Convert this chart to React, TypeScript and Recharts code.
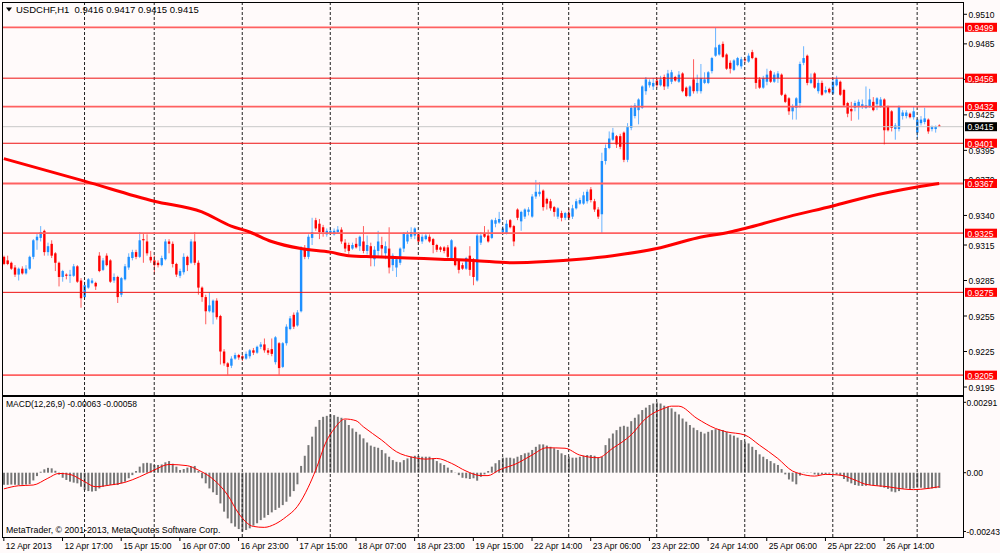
import React from 'react';
import { ComposedChart, Bar, Line, XAxis, YAxis, ReferenceLine } from 'recharts';

// ---------- price data (USDCHF H1) ----------
const openPrices = [
  0.9305, 0.9302, 0.9300, 0.9296, 0.9290, 0.9295, 0.9291, 0.9295, 0.9305, 0.9319,
  0.9321, 0.9327, 0.9309, 0.9316, 0.9308, 0.9300, 0.9288, 0.9290, 0.9289, 0.9289,
  0.9297, 0.9285, 0.9271, 0.9279, 0.9283, 0.9283, 0.9306, 0.9294, 0.9306, 0.9302,
  0.9285, 0.9288, 0.9273, 0.9286, 0.9296, 0.9304, 0.9309, 0.9305, 0.9320, 0.9318,
  0.9305, 0.9302, 0.9300, 0.9298, 0.9303, 0.9318, 0.9316, 0.9299, 0.9289, 0.9292,
  0.9305, 0.9300, 0.9318, 0.9300, 0.9279, 0.9271, 0.9259, 0.9258, 0.9268, 0.9255,
  0.9225, 0.9215, 0.9213, 0.9219, 0.9222, 0.9221, 0.9219, 0.9221, 0.9226, 0.9224,
  0.9229, 0.9231, 0.9226, 0.9227, 0.9216, 0.9232, 0.9212, 0.9232, 0.9244, 0.9256,
  0.9247, 0.9259, 0.9312, 0.9305, 0.9321, 0.9336, 0.9333, 0.9330, 0.9324, 0.9325,
  0.9324, 0.9326, 0.9328, 0.9317, 0.9315, 0.9312, 0.9316, 0.9314, 0.9318, 0.9310,
  0.9314, 0.9303, 0.9310, 0.9315, 0.9308, 0.9312, 0.9298, 0.9296, 0.9300, 0.9312,
  0.9318, 0.9322, 0.9323, 0.9324, 0.9318, 0.9320, 0.9322, 0.9320, 0.9315, 0.9313,
  0.9313, 0.9313, 0.9304, 0.9313, 0.9302, 0.9298, 0.9295, 0.9306, 0.9302, 0.9285,
  0.9317, 0.9325, 0.9323, 0.9321, 0.9333, 0.9334, 0.9326, 0.9325, 0.9336, 0.9331,
  0.9345, 0.9335, 0.9339, 0.9343, 0.9339, 0.9356, 0.9358, 0.9361, 0.9354, 0.9352,
  0.9347, 0.9339, 0.9342, 0.9338, 0.9342, 0.9339, 0.9346, 0.9350, 0.9350, 0.9352,
  0.9362, 0.9352, 0.9345, 0.9341, 0.9386, 0.9397, 0.9404, 0.9407, 0.9407, 0.9410,
  0.9387, 0.9414, 0.9424, 0.9429, 0.9431, 0.9445, 0.9450, 0.9449, 0.9454, 0.9450,
  0.9457, 0.9449, 0.9453, 0.9457, 0.9453, 0.9460, 0.9448, 0.9441, 0.9455, 0.9445,
  0.9445, 0.9452, 0.9452, 0.9462, 0.9475, 0.9476, 0.9485, 0.9476, 0.9469, 0.9463,
  0.9467, 0.9466, 0.9472, 0.9470, 0.9478, 0.9473, 0.9455, 0.9448, 0.9453, 0.9462,
  0.9453, 0.9456, 0.9459, 0.9442, 0.9439, 0.9428, 0.9431, 0.9435, 0.9469, 0.9475,
  0.9452, 0.9460, 0.9445, 0.9452, 0.9444, 0.9447, 0.9443, 0.9450, 0.9453, 0.9446,
  0.9435, 0.9430, 0.9431, 0.9432, 0.9432, 0.9431, 0.9432, 0.9436, 0.9434, 0.9432,
  0.9438, 0.9432, 0.9428, 0.9413, 0.9413, 0.9424, 0.9424, 0.9426, 0.9423, 0.9410,
  0.9418, 0.9419, 0.9421, 0.9413, 0.9413, 0.9416,
];
const highPrices = [
  0.9306, 0.9306, 0.9301, 0.9298, 0.9296, 0.9297, 0.9298, 0.9306, 0.9320, 0.9325,
  0.9331, 0.9328, 0.9317, 0.9319, 0.9309, 0.9301, 0.9294, 0.9291, 0.9294, 0.9299,
  0.9298, 0.9287, 0.9284, 0.9287, 0.9287, 0.9284, 0.9309, 0.9304, 0.9308, 0.9303,
  0.9291, 0.9289, 0.9288, 0.9299, 0.9308, 0.9311, 0.9311, 0.9326, 0.9325, 0.9324,
  0.9310, 0.9306, 0.9302, 0.9306, 0.9320, 0.9320, 0.9318, 0.9300, 0.9295, 0.9308,
  0.9306, 0.9320, 0.9326, 0.9302, 0.9280, 0.9273, 0.9275, 0.9269, 0.9270, 0.9256,
  0.9227, 0.9216, 0.9221, 0.9224, 0.9223, 0.9222, 0.9225, 0.9227, 0.9228, 0.9230,
  0.9233, 0.9236, 0.9228, 0.9236, 0.9238, 0.9233, 0.9233, 0.9248, 0.9255, 0.9258,
  0.9260, 0.9314, 0.9315, 0.9324, 0.9338, 0.9338, 0.9337, 0.9332, 0.9329, 0.9330,
  0.9329, 0.9331, 0.9330, 0.9320, 0.9317, 0.9317, 0.9321, 0.9323, 0.9331, 0.9323,
  0.9317, 0.9314, 0.9327, 0.9322, 0.9318, 0.9330, 0.9308, 0.9304, 0.9313, 0.9326,
  0.9327, 0.9330, 0.9330, 0.9326, 0.9324, 0.9325, 0.9324, 0.9321, 0.9316, 0.9314,
  0.9314, 0.9315, 0.9320, 0.9314, 0.9303, 0.9300, 0.9305, 0.9314, 0.9304, 0.9325,
  0.9326, 0.9331, 0.9328, 0.9337, 0.9338, 0.9343, 0.9331, 0.9336, 0.9337, 0.9332,
  0.9346, 0.9344, 0.9346, 0.9347, 0.9358, 0.9370, 0.9368, 0.9362, 0.9355, 0.9354,
  0.9348, 0.9347, 0.9344, 0.9343, 0.9346, 0.9349, 0.9354, 0.9355, 0.9360, 0.9362,
  0.9364, 0.9354, 0.9347, 0.9393, 0.9400, 0.9411, 0.9414, 0.9408, 0.9409, 0.9411,
  0.9418, 0.9433, 0.9435, 0.9439, 0.9450, 0.9457, 0.9455, 0.9456, 0.9456, 0.9458,
  0.9459, 0.9463, 0.9463, 0.9458, 0.9462, 0.9461, 0.9449, 0.9450, 0.9472, 0.9459,
  0.9468, 0.9461, 0.9462, 0.9474, 0.9499, 0.9485, 0.9487, 0.9477, 0.9471, 0.9472,
  0.9474, 0.9474, 0.9474, 0.9477, 0.9480, 0.9474, 0.9457, 0.9458, 0.9464, 0.9463,
  0.9461, 0.9462, 0.9460, 0.9443, 0.9440, 0.9434, 0.9440, 0.9470, 0.9483, 0.9476,
  0.9460, 0.9461, 0.9455, 0.9454, 0.9449, 0.9448, 0.9456, 0.9458, 0.9454, 0.9447,
  0.9436, 0.9436, 0.9437, 0.9438, 0.9438, 0.9449, 0.9447, 0.9440, 0.9440, 0.9440,
  0.9439, 0.9433, 0.9429, 0.9418, 0.9433, 0.9429, 0.9429, 0.9427, 0.9432, 0.9422,
  0.9424, 0.9431, 0.9422, 0.9416, 0.9416, 0.9417,
];
const lowPrices = [
  0.9298, 0.9298, 0.9294, 0.9288, 0.9285, 0.9290, 0.9290, 0.9294, 0.9303, 0.9311,
  0.9318, 0.9306, 0.9306, 0.9304, 0.9293, 0.9280, 0.9284, 0.9286, 0.9283, 0.9288,
  0.9283, 0.9262, 0.9270, 0.9278, 0.9282, 0.9277, 0.9292, 0.9293, 0.9297, 0.9283,
  0.9283, 0.9266, 0.9271, 0.9285, 0.9294, 0.9302, 0.9303, 0.9304, 0.9300, 0.9306,
  0.9300, 0.9290, 0.9296, 0.9297, 0.9302, 0.9308, 0.9296, 0.9288, 0.9287, 0.9290,
  0.9293, 0.9299, 0.9298, 0.9273, 0.9267, 0.9248, 0.9258, 0.9248, 0.9252, 0.9214,
  0.9213, 0.9205, 0.9211, 0.9218, 0.9218, 0.9217, 0.9218, 0.9219, 0.9222, 0.9223,
  0.9227, 0.9224, 0.9222, 0.9221, 0.9214, 0.9205, 0.9211, 0.9230, 0.9243, 0.9244,
  0.9246, 0.9258, 0.9303, 0.9303, 0.9315, 0.9327, 0.9320, 0.9322, 0.9322, 0.9324,
  0.9323, 0.9325, 0.9316, 0.9309, 0.9307, 0.9311, 0.9312, 0.9310, 0.9308, 0.9307,
  0.9297, 0.9297, 0.9304, 0.9304, 0.9303, 0.9291, 0.9293, 0.9288, 0.9298, 0.9309,
  0.9316, 0.9320, 0.9320, 0.9317, 0.9316, 0.9319, 0.9317, 0.9308, 0.9309, 0.9309,
  0.9308, 0.9304, 0.9303, 0.9297, 0.9291, 0.9294, 0.9294, 0.9289, 0.9281, 0.9284,
  0.9315, 0.9321, 0.9317, 0.9320, 0.9330, 0.9333, 0.9324, 0.9324, 0.9329, 0.9314,
  0.9336, 0.9327, 0.9337, 0.9340, 0.9338, 0.9354, 0.9356, 0.9344, 0.9345, 0.9344,
  0.9339, 0.9337, 0.9335, 0.9336, 0.9336, 0.9337, 0.9345, 0.9349, 0.9349, 0.9350,
  0.9351, 0.9343, 0.9337, 0.9325, 0.9383, 0.9396, 0.9403, 0.9397, 0.9396, 0.9385,
  0.9385, 0.9412, 0.9422, 0.9417, 0.9430, 0.9442, 0.9448, 0.9446, 0.9448, 0.9449,
  0.9446, 0.9447, 0.9451, 0.9453, 0.9452, 0.9444, 0.9440, 0.9440, 0.9443, 0.9443,
  0.9443, 0.9451, 0.9451, 0.9460, 0.9474, 0.9475, 0.9473, 0.9463, 0.9460, 0.9462,
  0.9466, 0.9464, 0.9469, 0.9469, 0.9472, 0.9447, 0.9447, 0.9447, 0.9450, 0.9452,
  0.9452, 0.9452, 0.9441, 0.9435, 0.9425, 0.9421, 0.9421, 0.9431, 0.9467, 0.9450,
  0.9451, 0.9447, 0.9443, 0.9441, 0.9443, 0.9443, 0.9442, 0.9449, 0.9441, 0.9432,
  0.9423, 0.9420, 0.9428, 0.9421, 0.9430, 0.9430, 0.9431, 0.9428, 0.9429, 0.9431,
  0.9400, 0.9411, 0.9411, 0.9404, 0.9411, 0.9421, 0.9422, 0.9422, 0.9421, 0.9405,
  0.9416, 0.9417, 0.9409, 0.9411, 0.9410, 0.9415,
];
const closePrices = [
  0.9299, 0.9299, 0.9295, 0.9290, 0.9295, 0.9291, 0.9295, 0.9305, 0.9319, 0.9322,
  0.9326, 0.9309, 0.9314, 0.9306, 0.9300, 0.9288, 0.9293, 0.9289, 0.9290, 0.9297,
  0.9284, 0.9270, 0.9281, 0.9286, 0.9285, 0.9280, 0.9293, 0.9302, 0.9298, 0.9284,
  0.9288, 0.9271, 0.9287, 0.9297, 0.9305, 0.9309, 0.9305, 0.9319, 0.9319, 0.9308,
  0.9302, 0.9298, 0.9298, 0.9304, 0.9318, 0.9316, 0.9299, 0.9290, 0.9293, 0.9305,
  0.9298, 0.9318, 0.9300, 0.9279, 0.9271, 0.9259, 0.9264, 0.9268, 0.9254, 0.9225,
  0.9215, 0.9212, 0.9219, 0.9222, 0.9220, 0.9219, 0.9223, 0.9226, 0.9224, 0.9229,
  0.9231, 0.9226, 0.9224, 0.9223, 0.9237, 0.9211, 0.9232, 0.9246, 0.9253, 0.9246,
  0.9258, 0.9312, 0.9305, 0.9322, 0.9326, 0.9329, 0.9326, 0.9326, 0.9327, 0.9327,
  0.9327, 0.9328, 0.9318, 0.9312, 0.9310, 0.9315, 0.9313, 0.9322, 0.9310, 0.9315,
  0.9304, 0.9311, 0.9318, 0.9312, 0.9314, 0.9296, 0.9306, 0.9303, 0.9312, 0.9325,
  0.9324, 0.9326, 0.9329, 0.9318, 0.9322, 0.9323, 0.9318, 0.9315, 0.9311, 0.9311,
  0.9310, 0.9305, 0.9319, 0.9298, 0.9294, 0.9295, 0.9304, 0.9294, 0.9288, 0.9323,
  0.9323, 0.9322, 0.9318, 0.9336, 0.9336, 0.9337, 0.9329, 0.9333, 0.9330, 0.9318,
  0.9338, 0.9343, 0.9345, 0.9345, 0.9356, 0.9360, 0.9360, 0.9347, 0.9350, 0.9346,
  0.9343, 0.9346, 0.9338, 0.9342, 0.9338, 0.9346, 0.9352, 0.9353, 0.9357, 0.9360,
  0.9353, 0.9345, 0.9339, 0.9386, 0.9397, 0.9405, 0.9410, 0.9400, 0.9398, 0.9387,
  0.9415, 0.9431, 0.9433, 0.9438, 0.9449, 0.9455, 0.9453, 0.9452, 0.9450, 0.9455,
  0.9449, 0.9460, 0.9461, 0.9454, 0.9459, 0.9445, 0.9441, 0.9449, 0.9445, 0.9452,
  0.9456, 0.9455, 0.9461, 0.9473, 0.9482, 0.9484, 0.9474, 0.9464, 0.9464, 0.9471,
  0.9473, 0.9472, 0.9471, 0.9475, 0.9473, 0.9452, 0.9448, 0.9456, 0.9459, 0.9453,
  0.9459, 0.9460, 0.9442, 0.9436, 0.9428, 0.9432, 0.9439, 0.9468, 0.9473, 0.9452,
  0.9455, 0.9448, 0.9452, 0.9442, 0.9446, 0.9444, 0.9453, 0.9455, 0.9442, 0.9433,
  0.9426, 0.9428, 0.9435, 0.9436, 0.9434, 0.9433, 0.9438, 0.9429, 0.9439, 0.9438,
  0.9412, 0.9412, 0.9414, 0.9416, 0.9432, 0.9427, 0.9427, 0.9423, 0.9428, 0.9421,
  0.9421, 0.9422, 0.9411, 0.9415, 0.9415, 0.9415,
];

// 200-period moving average, read at selected bars
const maBars = [0, 22, 41, 54, 62, 67, 73, 81, 89, 94, 101, 110, 119, 128, 139, 148, 157, 166, 178, 189, 198, 202, 214, 226, 236, 249, 255];
const maValues = [
  0.9388, 0.9369, 0.9352, 0.9343, 0.9331, 0.9326, 0.9318, 0.9312, 0.9309, 0.9306,
  0.9305, 0.9304, 0.9303, 0.9302, 0.9300, 0.9301, 0.9303, 0.9306, 0.9312, 0.9321,
  0.9326, 0.9329, 0.9339, 0.9348, 0.9356, 0.9364, 0.9367,
];

// MACD(12,26,9) main histogram
const macdHist = [
  -0.00050, -0.00050, -0.00049, -0.00050, -0.00051, -0.00050, -0.00049, -0.00047, -0.00032, -0.00014,
  0.00004, 0.00014, 0.00020, 0.00018, 0.00008, -0.00008, -0.00021, -0.00030, -0.00037, -0.00041,
  -0.00044, -0.00058, -0.00072, -0.00076, -0.00078, -0.00076, -0.00065, -0.00058, -0.00054, -0.00051,
  -0.00051, -0.00051, -0.00044, -0.00037, -0.00023, -0.00010, 0.00007, 0.00025, 0.00039, 0.00041,
  0.00039, 0.00032, 0.00032, 0.00034, 0.00043, 0.00048, 0.00037, 0.00025, 0.00011, 0.00015,
  0.00021, 0.00025, 0.00028, 0.00007, -0.00023, -0.00044, -0.00065, -0.00081, -0.00092, -0.00127,
  -0.00161, -0.00189, -0.00209, -0.00223, -0.00233, -0.00243, -0.00237, -0.00230, -0.00219, -0.00209,
  -0.00196, -0.00186, -0.00175, -0.00164, -0.00154, -0.00145, -0.00134, -0.00120, -0.00099, -0.00076,
  -0.00048, 0.00028, 0.00070, 0.00114, 0.00149, 0.00190, 0.00218, 0.00231, 0.00235, 0.00241,
  0.00238, 0.00231, 0.00227, 0.00218, 0.00197, 0.00183, 0.00169, 0.00158, 0.00142, 0.00125,
  0.00112, 0.00107, 0.00103, 0.00094, 0.00080, 0.00066, 0.00052, 0.00045, 0.00043, 0.00052,
  0.00059, 0.00066, 0.00070, 0.00069, 0.00066, 0.00066, 0.00066, 0.00059, 0.00048, 0.00039,
  0.00032, 0.00021, 0.00011, 0.00001, -0.00010, -0.00021, -0.00023, -0.00026, -0.00023, -0.00033,
  -0.00017, -0.00007, 0.00007, 0.00025, 0.00039, 0.00052, 0.00062, 0.00062, 0.00062, 0.00059,
  0.00066, 0.00073, 0.00080, 0.00083, 0.00094, 0.00107, 0.00117, 0.00117, 0.00112, 0.00107,
  0.00101, 0.00094, 0.00080, 0.00073, 0.00066, 0.00062, 0.00062, 0.00066, 0.00070, 0.00073,
  0.00073, 0.00070, 0.00062, 0.00066, 0.00114, 0.00142, 0.00162, 0.00176, 0.00190, 0.00194,
  0.00190, 0.00213, 0.00227, 0.00241, 0.00259, 0.00269, 0.00280, 0.00286, 0.00291, 0.00286,
  0.00277, 0.00273, 0.00266, 0.00252, 0.00241, 0.00224, 0.00211, 0.00197, 0.00186, 0.00176,
  0.00169, 0.00162, 0.00169, 0.00176, 0.00180, 0.00179, 0.00176, 0.00169, 0.00158, 0.00153,
  0.00145, 0.00135, 0.00128, 0.00121, 0.00107, 0.00094, 0.00076, 0.00066, 0.00056, 0.00048,
  0.00039, 0.00032, 0.00015, -0.00007, -0.00028, -0.00037, -0.00048, -0.00012, 0.00001, -0.00001,
  0.00001, -0.00007, -0.00010, -0.00007, -0.00007, -0.00004, -0.00003, -0.00007, -0.00012, -0.00026,
  -0.00037, -0.00044, -0.00051, -0.00054, -0.00055, -0.00054, -0.00051, -0.00051, -0.00054, -0.00058,
  -0.00062, -0.00067, -0.00078, -0.00081, -0.00076, -0.00067, -0.00065, -0.00067, -0.00065, -0.00062,
  -0.00062, -0.00065, -0.00067, -0.00065, -0.00064, -0.00063,
];

// MACD signal line, read at selected bars
const signalBars = [
  0, 4, 8, 12, 15, 18, 22, 25, 29, 33, 37, 41, 45, 50, 53, 57, 61, 64, 68, 71,
  74, 77, 80, 83, 85, 88, 90, 93, 96, 98, 103, 107, 112, 115, 118, 122, 126, 130, 132, 135,
  140, 144, 148, 153, 157, 162, 166, 171, 175, 180, 182, 184, 189, 194, 197, 202, 206, 211, 215, 217,
  221, 224, 228, 232, 235, 241, 245, 248, 252, 255,
];
const signalValues = [
  -0.00067, -0.00054, -0.00051, -0.00023, -0.00003, -0.00007, -0.00037, -0.00058, -0.00051, -0.00040,
  -0.00017, 0.00011, 0.00034, 0.00029, 0.00011, -0.00026, -0.00092, -0.00168, -0.00222, -0.00226,
  -0.00212, -0.00182, -0.00140, -0.00060, 0.00010, 0.00132, 0.00180, 0.00222, 0.00215, 0.00190,
  0.00135, 0.00087, 0.00062, 0.00056, 0.00059, 0.00039, 0.00007, -0.00012, -0.00012, 0.00011,
  0.00039, 0.00073, 0.00103, 0.00101, 0.00073, 0.00062, 0.00101, 0.00156, 0.00224, 0.00266,
  0.00275, 0.00275, 0.00224, 0.00183, 0.00169, 0.00156, 0.00114, 0.00059, 0.00007, -0.00004,
  -0.00014, -0.00007, -0.00010, -0.00030, -0.00048, -0.00058, -0.00067, -0.00070, -0.00065, -0.00058,
];

// horizontal levels and axis ticks
const levelPrices = [0.9499, 0.9456, 0.9432, 0.9401, 0.9367, 0.9325, 0.9275, 0.9205];
const heavyLevels = [0.9499, 0.9432, 0.9367, 0.9325, 0.9205];
const bidPrice = 0.9415;
const priceTicks = [0.9510, 0.9485, 0.9455, 0.9425, 0.9395, 0.9370, 0.9340, 0.9315, 0.9285, 0.9255, 0.9225, 0.9195];
const macdTicks = [0.00291, 0, -0.00243];
const daySeparators = [22, 41, 65, 89, 113, 136, 154, 178, 202, 226, 249];
const timeLabelBars = [0, 16, 32, 48, 64, 80, 96, 112, 128, 144, 160, 176, 192, 208, 224, 240];
const timeLabels = [
  '12 Apr 2013', '12 Apr 17:00', '15 Apr 15:00', '16 Apr 07:00', '16 Apr 23:00', '17 Apr 15:00',
  '18 Apr 07:00', '18 Apr 23:00', '19 Apr 15:00', '22 Apr 14:00', '23 Apr 06:00', '23 Apr 22:00',
  '24 Apr 14:00', '25 Apr 06:00', '25 Apr 22:00', '26 Apr 14:00',
];
const emptySlotsRight = 6;

// ---------- build rows ----------
const rows: any[] = [];
const totalSlots = openPrices.length + emptySlotsRight;
for (let i = 0; i < totalSlots; i++) {
  const has = i < openPrices.length;
  const maIdx = maBars.indexOf(i);
  const sgIdx = signalBars.indexOf(i);
  rows.push({
    i,
    open: has ? openPrices[i] : null,
    close: has ? closePrices[i] : null,
    high: has ? highPrices[i] : null,
    low: has ? lowPrices[i] : null,
    range: has ? [lowPrices[i], highPrices[i]] : null,
    ma: maIdx >= 0 ? maValues[maIdx] : null,
    macd: has ? macdHist[i] : null,
    signal: sgIdx >= 0 ? signalValues[sgIdx] : null,
  });
}

const FONT = "'Liberation Sans', Arial, sans-serif";
const FS = 8.5;
const BG = '#fffafa';
const PLOT_LEFT = 2;
const AXIS_W = 37;

const Candle = (props: any) => {
  const { x, y, width, height, payload } = props;
  if (!payload || payload.open == null || !isFinite(y) || !isFinite(height)) return <g />;
  const { open, close, high, low } = payload;
  const span = high - low;
  const py = (p: number) => (span > 0 ? y + ((high - p) / span) * height : y);
  const cx = x + width / 2;
  const bull = close >= open;
  const body = bull ? '#1e90ff' : '#ff0000';
  const wick = bull ? '#6ab4ff' : '#ff5c5c';
  const top = Math.min(py(open), py(close));
  const bh = Math.max(Math.abs(py(open) - py(close)), 1);
  const bw = 2.4;
  return (
    <g>
      <line x1={cx} x2={cx} y1={y} y2={y + height} stroke={wick} strokeWidth={1} />
      <rect x={cx - bw / 2} y={top} width={bw} height={bh} fill={body} />
    </g>
  );
};

const PriceTick = (props: any) => {
  const { x, y, payload } = props;
  const v = payload.value;
  const isLevel = levelPrices.includes(v);
  const isBid = v === bidPrice;
  if (isLevel || isBid) {
    return (
      <g>
        <rect x={x + 2} y={y - 4.5} width={32} height={9} fill={isBid ? '#000000' : '#ff0000'} />
        <text x={x + 4.5} y={y + 0.5} fill="#ffffff" fontSize={FS} fontFamily={FONT} dominantBaseline="central">
          {v.toFixed(4)}
        </text>
      </g>
    );
  }
  return (
    <g>
      <line x1={x} x2={x + 4} y1={y} y2={y} stroke="#000" />
      <text x={x + 5.5} y={y + 0.5} fill="#000" fontSize={FS} fontFamily={FONT} dominantBaseline="central">
        {v.toFixed(4)}
      </text>
    </g>
  );
};

const MacdTick = (props: any) => {
  const { x, y, payload } = props;
  const v = payload.value;
  const label = v === 0 ? '0.00' : v.toFixed(5);
  return (
    <g>
      <line x1={x} x2={x + 3} y1={y} y2={y} stroke="#000" />
      <text x={x + 3.5} y={y + 0.5} fill="#000" fontSize={FS} fontFamily={FONT} dominantBaseline="central">
        {label}
      </text>
    </g>
  );
};

const TimeTick = (props: any) => {
  const { x, y, payload } = props;
  const k = timeLabelBars.indexOf(payload.value);
  const label = k >= 0 ? timeLabels[k] : '';
  return (
    <g>
      <line x1={x} x2={x} y1={y} y2={y + 4} stroke="#000" />
      <text x={x + 2} y={y + 8.5} fill="#000" fontSize={FS} fontFamily={FONT} dominantBaseline="central">
        {label}
      </text>
    </g>
  );
};

export default function App() {
  const priceDomain = [0.918824, 0.952039];
  const macdDomain = [-0.002658, 0.003129];
  return (
    <div style={{ position: 'absolute', left: 0, top: 0, width: 1000, height: 553, background: BG, overflow: 'hidden' }}>
      {/* main price panel */}
      <div style={{ position: 'absolute', left: 0, top: 0 }}>
        <ComposedChart
          width={1000}
          height={397}
          data={rows}
          margin={{ top: 2, right: 0, bottom: 2, left: PLOT_LEFT }}
          barCategoryGap={0}
        >
          <XAxis dataKey="i" type="category" hide />
          <YAxis
            orientation="right"
            width={AXIS_W}
            type="number"
            domain={priceDomain}
            allowDataOverflow
            ticks={[...priceTicks, ...levelPrices, bidPrice]}
            interval={0}
            tickLine={false}
            axisLine={false}
            tickSize={0}
            tickMargin={0}
            tick={<PriceTick />}
          />
          {daySeparators.map((d) => (
            <ReferenceLine key={'d' + d} x={d} stroke="#222" strokeDasharray="3 2" strokeWidth={1} />
          ))}
          <ReferenceLine y={bidPrice} stroke="#c8c8c8" strokeWidth={1} />
          {levelPrices.map((p) => (
            <ReferenceLine
              key={'l' + p}
              y={p}
              stroke={heavyLevels.includes(p) ? '#ff6060' : '#ee1111'}
              strokeWidth={heavyLevels.includes(p) ? 1.8 : 1}
            />
          ))}
          <Bar dataKey="range" shape={<Candle />} isAnimationActive={false} />
          <Line
            dataKey="ma"
            type="monotone"
            stroke="#ff0000"
            strokeWidth={3}
            dot={false}
            connectNulls
            isAnimationActive={false}
          />
        </ComposedChart>
      </div>

      {/* MACD panel */}
      <div style={{ position: 'absolute', left: 0, top: 390 }}>
        <ComposedChart
          width={1000}
          height={163}
          data={rows}
          margin={{ top: 7, right: 0, bottom: 0, left: PLOT_LEFT }}
          barCategoryGap={0}
        >
          <XAxis
            dataKey="i"
            type="category"
            height={16}
            ticks={timeLabelBars}
            interval={0}
            tickLine={false}
            axisLine={false}
            tickSize={0}
            tickMargin={0}
            tick={<TimeTick />}
          />
          <YAxis
            orientation="right"
            width={AXIS_W}
            type="number"
            domain={macdDomain}
            allowDataOverflow
            ticks={macdTicks}
            interval={0}
            tickLine={false}
            axisLine={false}
            tickSize={0}
            tickMargin={0}
            tick={<MacdTick />}
          />
          {daySeparators.map((d) => (
            <ReferenceLine key={'m' + d} x={d} stroke="#222" strokeDasharray="3 2" strokeWidth={1} />
          ))}
          <Bar dataKey="macd" fill="#767676" barSize={2} isAnimationActive={false} />
          <Line
            dataKey="signal"
            type="monotone"
            stroke="#ff0000"
            strokeWidth={1}
            dot={false}
            connectNulls
            isAnimationActive={false}
          />
        </ComposedChart>
      </div>

      {/* panel borders */}
      <div style={{ position: 'absolute', left: 2, top: 2, width: 962, height: 394, border: '1px solid #000', boxSizing: 'border-box', pointerEvents: 'none' }} />
      <div style={{ position: 'absolute', left: 2, top: 396, width: 962, height: 142, border: '1px solid #000', boxSizing: 'border-box', pointerEvents: 'none' }} />

      {/* texts */}
      <svg style={{ position: 'absolute', left: 0, top: 0 }} width={16} height={16}>
        <polygon points="6,7.5 12,7.5 9,11.5" fill="#000" />
      </svg>
      <div style={{ position: 'absolute', left: 16, top: 4, fontFamily: FONT, fontSize: 9.5, lineHeight: '12px', whiteSpace: 'pre', color: '#000' }}>
        {'USDCHF,H1  0.9416 0.9417 0.9415 0.9415'}
      </div>
      <div style={{ position: 'absolute', left: 6, top: 398, fontFamily: FONT, fontSize: FS, lineHeight: '12px', whiteSpace: 'pre', color: '#000' }}>
        {'MACD(12,26,9) -0.00063 -0.00058'}
      </div>
      <div style={{ position: 'absolute', left: 6, top: 524, fontFamily: FONT, fontSize: 8.8, lineHeight: '12px', whiteSpace: 'pre', color: '#000' }}>
        {'MetaTrader, © 2001-2013, MetaQuotes Software Corp.'}
      </div>
    </div>
  );
}
